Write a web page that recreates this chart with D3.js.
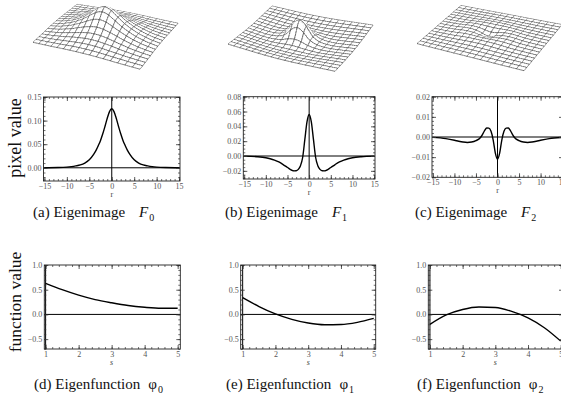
<!DOCTYPE html>
<html>
<head>
<meta charset="utf-8">
<script src="https://cdn.jsdelivr.net/npm/d3@7"></script>
<style>
body { margin: 0; background: #fff; }
svg { display: block; }
svg text { font-family: "Liberation Serif", "Times New Roman", Times, serif; }
</style>
</head>
<body>
<svg id="chart" width="561" height="408"></svg>
<script>

// radial profiles of the eigenimages
var rPts   = [-15, -12, -10, -9, -8, -7, -6, -5, -4, -3.5, -3, -2.5, -2, -1.5, -1, -0.5, 0,
              0.5, 1, 1.5, 2, 2.5, 3, 3.5, 4, 5, 6, 7, 8, 9, 10, 12, 15];
var eigenF0 = [0.0002, 0.0006, 0.0015, 0.0025, 0.004, 0.006, 0.010, 0.017, 0.029, 0.037, 0.047, 0.058, 0.072, 0.088, 0.105, 0.119, 0.125,
               0.119, 0.105, 0.088, 0.072, 0.058, 0.047, 0.037, 0.029, 0.017, 0.010, 0.006, 0.004, 0.0025, 0.0015, 0.0006, 0.0002];
var eigenF1 = [-0.0002, -0.001, -0.0024, -0.0037, -0.0055, -0.008, -0.0115, -0.0155, -0.0192, -0.020, -0.0198, -0.018, -0.013, -0.002, 0.022, 0.046, 0.056,
               0.046, 0.022, -0.002, -0.013, -0.018, -0.0198, -0.020, -0.0192, -0.0155, -0.0115, -0.008, -0.0055, -0.0037, -0.0024, -0.001, -0.0002];
var eigenF2 = [-0.0002, -0.0008, -0.0016, -0.0021, -0.0025, -0.0027, -0.0025, -0.0018, -0.0004, 0.0012, 0.0032, 0.0045, 0.0044, 0.0028, -0.0015, -0.008, -0.011,
               -0.008, -0.0015, 0.0028, 0.0044, 0.0045, 0.0032, 0.0012, -0.0004, -0.0018, -0.0025, -0.0027, -0.0025, -0.0021, -0.0016, -0.0008, -0.0002];

// eigenfunctions over s
var sPts = [1, 1.5, 2, 2.5, 3, 3.5, 4, 4.5, 5];
var phi0 = [0.63, 0.50, 0.39, 0.30, 0.235, 0.18, 0.145, 0.125, 0.125];
var phi1 = [0.34, 0.16, 0.01, -0.10, -0.175, -0.21, -0.205, -0.16, -0.08];
var phi2 = [-0.20, -0.01, 0.10, 0.15, 0.14, 0.06, -0.07, -0.27, -0.54];

// tick labels
var rTicks = [-15, -10, -5, 0, 5, 10, 15];
var sTicks = [1, 2, 3, 4, 5];
var f0Ticks = [0, 0.05, 0.10, 0.15];
var f1Ticks = [-0.02, 0, 0.02, 0.04, 0.06, 0.08];
var f2Ticks = [-0.02, -0.01, 0, 0.01, 0.02];
var phiTicks = [-0.5, 0, 0.5, 1.0];

var serif = "\"Liberation Serif\", \"Times New Roman\", Times, serif";
var svg = d3.select("#chart");

function minorTicks(domain, step) {
	var lo = Math.ceil(domain[0] / step - 1e-6), hi = Math.floor(domain[1] / step + 1e-6);
	return d3.range(lo, hi + 1).map(function(k) { return +(k * step).toFixed(6); });
}

function drawPanel(p) {
	var x = d3.scaleLinear().domain(p.xDomain).range([p.left, p.right]);
	var y = d3.scaleLinear().domain(p.yDomain).range([p.bottom, p.top]);
	var g = svg.append("g");

	var clipId = "clip" + p.id;
	g.append("clipPath").attr("id", clipId)
	  .append("rect")
	    .attr("x", p.left).attr("y", p.top)
	    .attr("width", p.right - p.left).attr("height", p.bottom - p.top);

	// axes through the origin
	g.append("line")
	    .attr("x1", p.left).attr("x2", p.right)
	    .attr("y1", y(0)).attr("y2", y(0))
	    .attr("stroke", "#000").attr("stroke-width", 1);
	g.append("line")
	    .attr("x1", x(p.axisX)).attr("x2", x(p.axisX))
	    .attr("y1", p.top).attr("y2", p.bottom)
	    .attr("stroke", "#000").attr("stroke-width", 1);

	var line = d3.line()
	    .x(function(d) { return x(d[0]); })
	    .y(function(d) { return y(d[1]); })
	    .curve(d3.curveMonotoneX);

	g.append("path")
	    .datum(d3.zip(p.xs, p.ys))
	    .attr("clip-path", "url(#" + clipId + ")")
	    .attr("fill", "none")
	    .attr("stroke", "#000")
	    .attr("stroke-width", 1.4)
	    .attr("d", line);

	// frame ticks, all four sides, pointing inward
	var sides = [
	  {ax: d3.axisBottom(x), t: "translate(0," + p.bottom + ")", labels: true, vals: p.xTicks, minor: minorTicks(p.xDomain, p.xMinor), fmt: p.xFmt},
	  {ax: d3.axisTop(x), t: "translate(0," + p.top + ")", labels: false, vals: p.xTicks, minor: minorTicks(p.xDomain, p.xMinor)},
	  {ax: d3.axisLeft(y), t: "translate(" + p.left + ",0)", labels: true, vals: p.yTicks, minor: minorTicks(p.yDomain, p.yMinor), fmt: p.yFmt},
	  {ax: d3.axisRight(y), t: "translate(" + p.right + ",0)", labels: false, vals: p.yTicks, minor: minorTicks(p.yDomain, p.yMinor)}
	];
	sides.forEach(function(s) {
		var gm = g.append("g").attr("transform", s.t)
		    .call(s.ax.tickValues(s.minor).tickSizeInner(-2).tickSizeOuter(0).tickFormat(""));
		gm.select(".domain").remove();
		gm.selectAll("text").remove();
		gm.selectAll("line").attr("stroke", "#333").attr("stroke-width", 0.7);

		var gM = g.append("g").attr("transform", s.t)
		    .call(s.ax.tickValues(s.vals).tickSizeInner(-4).tickPadding(2)
		      .tickFormat(s.labels ? d3.format(s.fmt) : ""));
		gM.select(".domain").remove();
		gM.selectAll("line").attr("stroke", "#333").attr("stroke-width", 0.8);
		gM.attr("font-family", null).attr("font-size", null);
		gM.selectAll("text")
		    .style("font-family", serif)
		    .style("font-size", "8px")
		    .attr("fill", "#555");
	});

	g.append("rect")
	    .attr("x", p.left).attr("y", p.top)
	    .attr("width", p.right - p.left).attr("height", p.bottom - p.top)
	    .attr("fill", "none").attr("stroke", "#222").attr("stroke-width", 0.9);

	g.append("text")
	    .attr("x", x(p.labelAt)).attr("y", p.bottom + 16)
	    .attr("text-anchor", "middle")
	    .style("font-family", serif)
	    .style("font-size", "8px")
	    .style("font-style", p.xLabelItalic ? "italic" : null)
	    .attr("fill", "#444")
	    .text(p.xLabel);

	var c = p.caption;
	var t = svg.append("text")
	    .attr("x", c.x).attr("y", c.y)
	    .style("font-family", serif)
	    .style("font-size", "15px")
	    .attr("fill", "#111");
	t.append("tspan").text(c.pre);
	t.append("tspan").attr("dx", c.gap).style("font-style", c.italic ? "italic" : null).text(c.sym);
	t.append("tspan").attr("dy", 4).attr("dx", 1).style("font-size", "10px").text(c.sub);
}

// projective map of the unit square onto the screen quad [back, right, front, left]
function homography(q) {
	var x0 = q[0][0], y0 = q[0][1], x1 = q[1][0], y1 = q[1][1],
	    x2 = q[2][0], y2 = q[2][1], x3 = q[3][0], y3 = q[3][1];
	var dx1 = x1 - x2, dx2 = x3 - x2, dx3 = x0 - x1 + x2 - x3,
	    dy1 = y1 - y2, dy2 = y3 - y2, dy3 = y0 - y1 + y2 - y3;
	var den = dx1 * dy2 - dx2 * dy1;
	var gg = (dx3 * dy2 - dx2 * dy3) / den, hh = (dx1 * dy3 - dx3 * dy1) / den;
	var a = x1 - x0 + gg * x1, b = x3 - x0 + hh * x3,
	    d = y1 - y0 + gg * y1, e = y3 - y0 + hh * y3;
	return function(u, v) {
		var w = gg * u + hh * v + 1;
		return [(a * u + b * v + x0) / w, (d * u + e * v + y0) / w, w];
	};
}

function drawSurface(quad, zPx, values) {
	var rPos = [], vPos = [];
	rPts.forEach(function(r, i) { if (r >= 0) { rPos.push(r); vPos.push(values[i]); } });
	var profile = d3.scaleLinear().domain(rPos).range(vPos).clamp(true);
	var world = d3.scaleLinear().domain([0, 1]).range([-6, 6]);
	var H = homography(quad);
	var wc = H(0.5, 0.5)[2];
	var N = 64, every = 4;

	var pts = [];
	for (var i = 0; i <= N; i++) {
		pts.push([]);
		for (var j = 0; j <= N; j++) {
			var u = i / N, v = j / N;
			var b = H(u, v);
			var z = profile(Math.hypot(world(u), world(v)));
			pts[i].push([b[0], b[1] - z * zPx * wc / b[2]]);
		}
	}

	var cells = [];
	for (var i = 0; i < N; i++) for (var j = 0; j < N; j++) cells.push([i, j]);
	cells.sort(function(a, b) { return (a[0] + a[1]) - (b[0] + b[1]) || a[0] - b[0]; });

	var g = svg.append("g");
	var f = function(p) { return p[0].toFixed(2) + "," + p[1].toFixed(2); };
	cells.forEach(function(c) {
		var i = c[0], j = c[1];
		var p00 = pts[i][j], p10 = pts[i + 1][j], p11 = pts[i + 1][j + 1], p01 = pts[i][j + 1];
		g.append("path")
		    .attr("d", "M" + f(p00) + "L" + f(p10) + "L" + f(p11) + "L" + f(p01) + "Z")
		    .attr("fill", "#fff").attr("stroke", "#fff").attr("stroke-width", 0.4);
		var d = "";
		if (j % every === 0) d += "M" + f(p00) + "L" + f(p10);
		if ((j + 1) % every === 0) d += "M" + f(p01) + "L" + f(p11);
		if (i % every === 0) d += "M" + f(p00) + "L" + f(p01);
		if ((i + 1) % every === 0) d += "M" + f(p10) + "L" + f(p11);
		if (d) {
			g.append("path").attr("d", d)
			    .attr("fill", "none").attr("stroke", "#222").attr("stroke-width", 0.6);
		}
	});
}

drawSurface([[77, 5], [178, 24], [140, 70], [33, 43]], 215, eigenF0);
drawSurface([[272, 5], [373, 24], [335, 70], [228, 43]], 250, eigenF1);
drawSurface([[461, 5], [562, 24], [524, 70], [417, 43]], 250, eigenF2);

var upper = [
  {id: "a", left: 43.5, right: 180, top: 97, bottom: 181, yDomain: [-0.028, 0.15], yTicks: f0Ticks, yMinor: 0.01, ys: eigenF0,
   caption: {x: 33, y: 217, pre: "(a) Eigenimage", sym: "F", italic: true, sub: "0", gap: 14}},
  {id: "b", left: 243.3, right: 375, top: 96.7, bottom: 179, yDomain: [-0.031, 0.08], yTicks: f1Ticks, yMinor: 0.005, ys: eigenF1,
   caption: {x: 225, y: 217, pre: "(b) Eigenimage", sym: "F", italic: true, sub: "1", gap: 14}},
  {id: "c", left: 432, right: 563, top: 96.7, bottom: 177.3, yDomain: [-0.02, 0.02], yTicks: f2Ticks, yMinor: 0.002, ys: eigenF2,
   caption: {x: 415, y: 217, pre: "(c) Eigenimage", sym: "F", italic: true, sub: "2", gap: 14}}
];
upper.forEach(function(p) {
	p.xDomain = [-15.2, 15.2]; p.xs = rPts; p.xTicks = rTicks; p.xMinor = 1;
	p.xFmt = "d"; p.yFmt = ".2f"; p.axisX = 0; p.xLabel = "r"; p.labelAt = 0;
	drawPanel(p);
});

var lower = [
  {id: "d", left: 44.3, right: 180.3, xDomain: [0.96, 5.08], ys: phi0,
   caption: {x: 34, y: 389, pre: "(d) Eigenfunction", sym: "\u03c6", italic: false, sub: "0", gap: 8}},
  {id: "e", left: 240.7, right: 375.7, xDomain: [0.94, 5.06], ys: phi1,
   caption: {x: 226, y: 389, pre: "(e) Eigenfunction", sym: "\u03c6", italic: false, sub: "1", gap: 8}},
  {id: "f", left: 428.3, right: 563, xDomain: [0.95, 5.07], ys: phi2,
   caption: {x: 417, y: 389, pre: "(f) Eigenfunction", sym: "\u03c6", italic: false, sub: "2", gap: 8}}
];
lower.forEach(function(p) {
	p.top = 265; p.bottom = 349; p.yDomain = [-0.7, 1.0]; p.yTicks = phiTicks; p.yMinor = 0.1;
	p.xs = sPts; p.xTicks = sTicks; p.xMinor = 0.2; p.xFmt = "d"; p.yFmt = ".1f";
	p.axisX = 1; p.xLabel = "s"; p.xLabelItalic = true; p.labelAt = 3;
	drawPanel(p);
});

svg.append("text")
    .attr("transform", "translate(21,138) rotate(-90)")
    .attr("text-anchor", "middle")
    .style("font-family", serif)
    .style("font-size", "18px")
    .attr("fill", "#111")
    .text("pixel value");

svg.append("text")
    .attr("transform", "translate(21,302) rotate(-90)")
    .attr("text-anchor", "middle")
    .style("font-family", serif)
    .style("font-size", "17.5px")
    .attr("fill", "#111")
    .text("function value");

</script>
</body>
</html>
